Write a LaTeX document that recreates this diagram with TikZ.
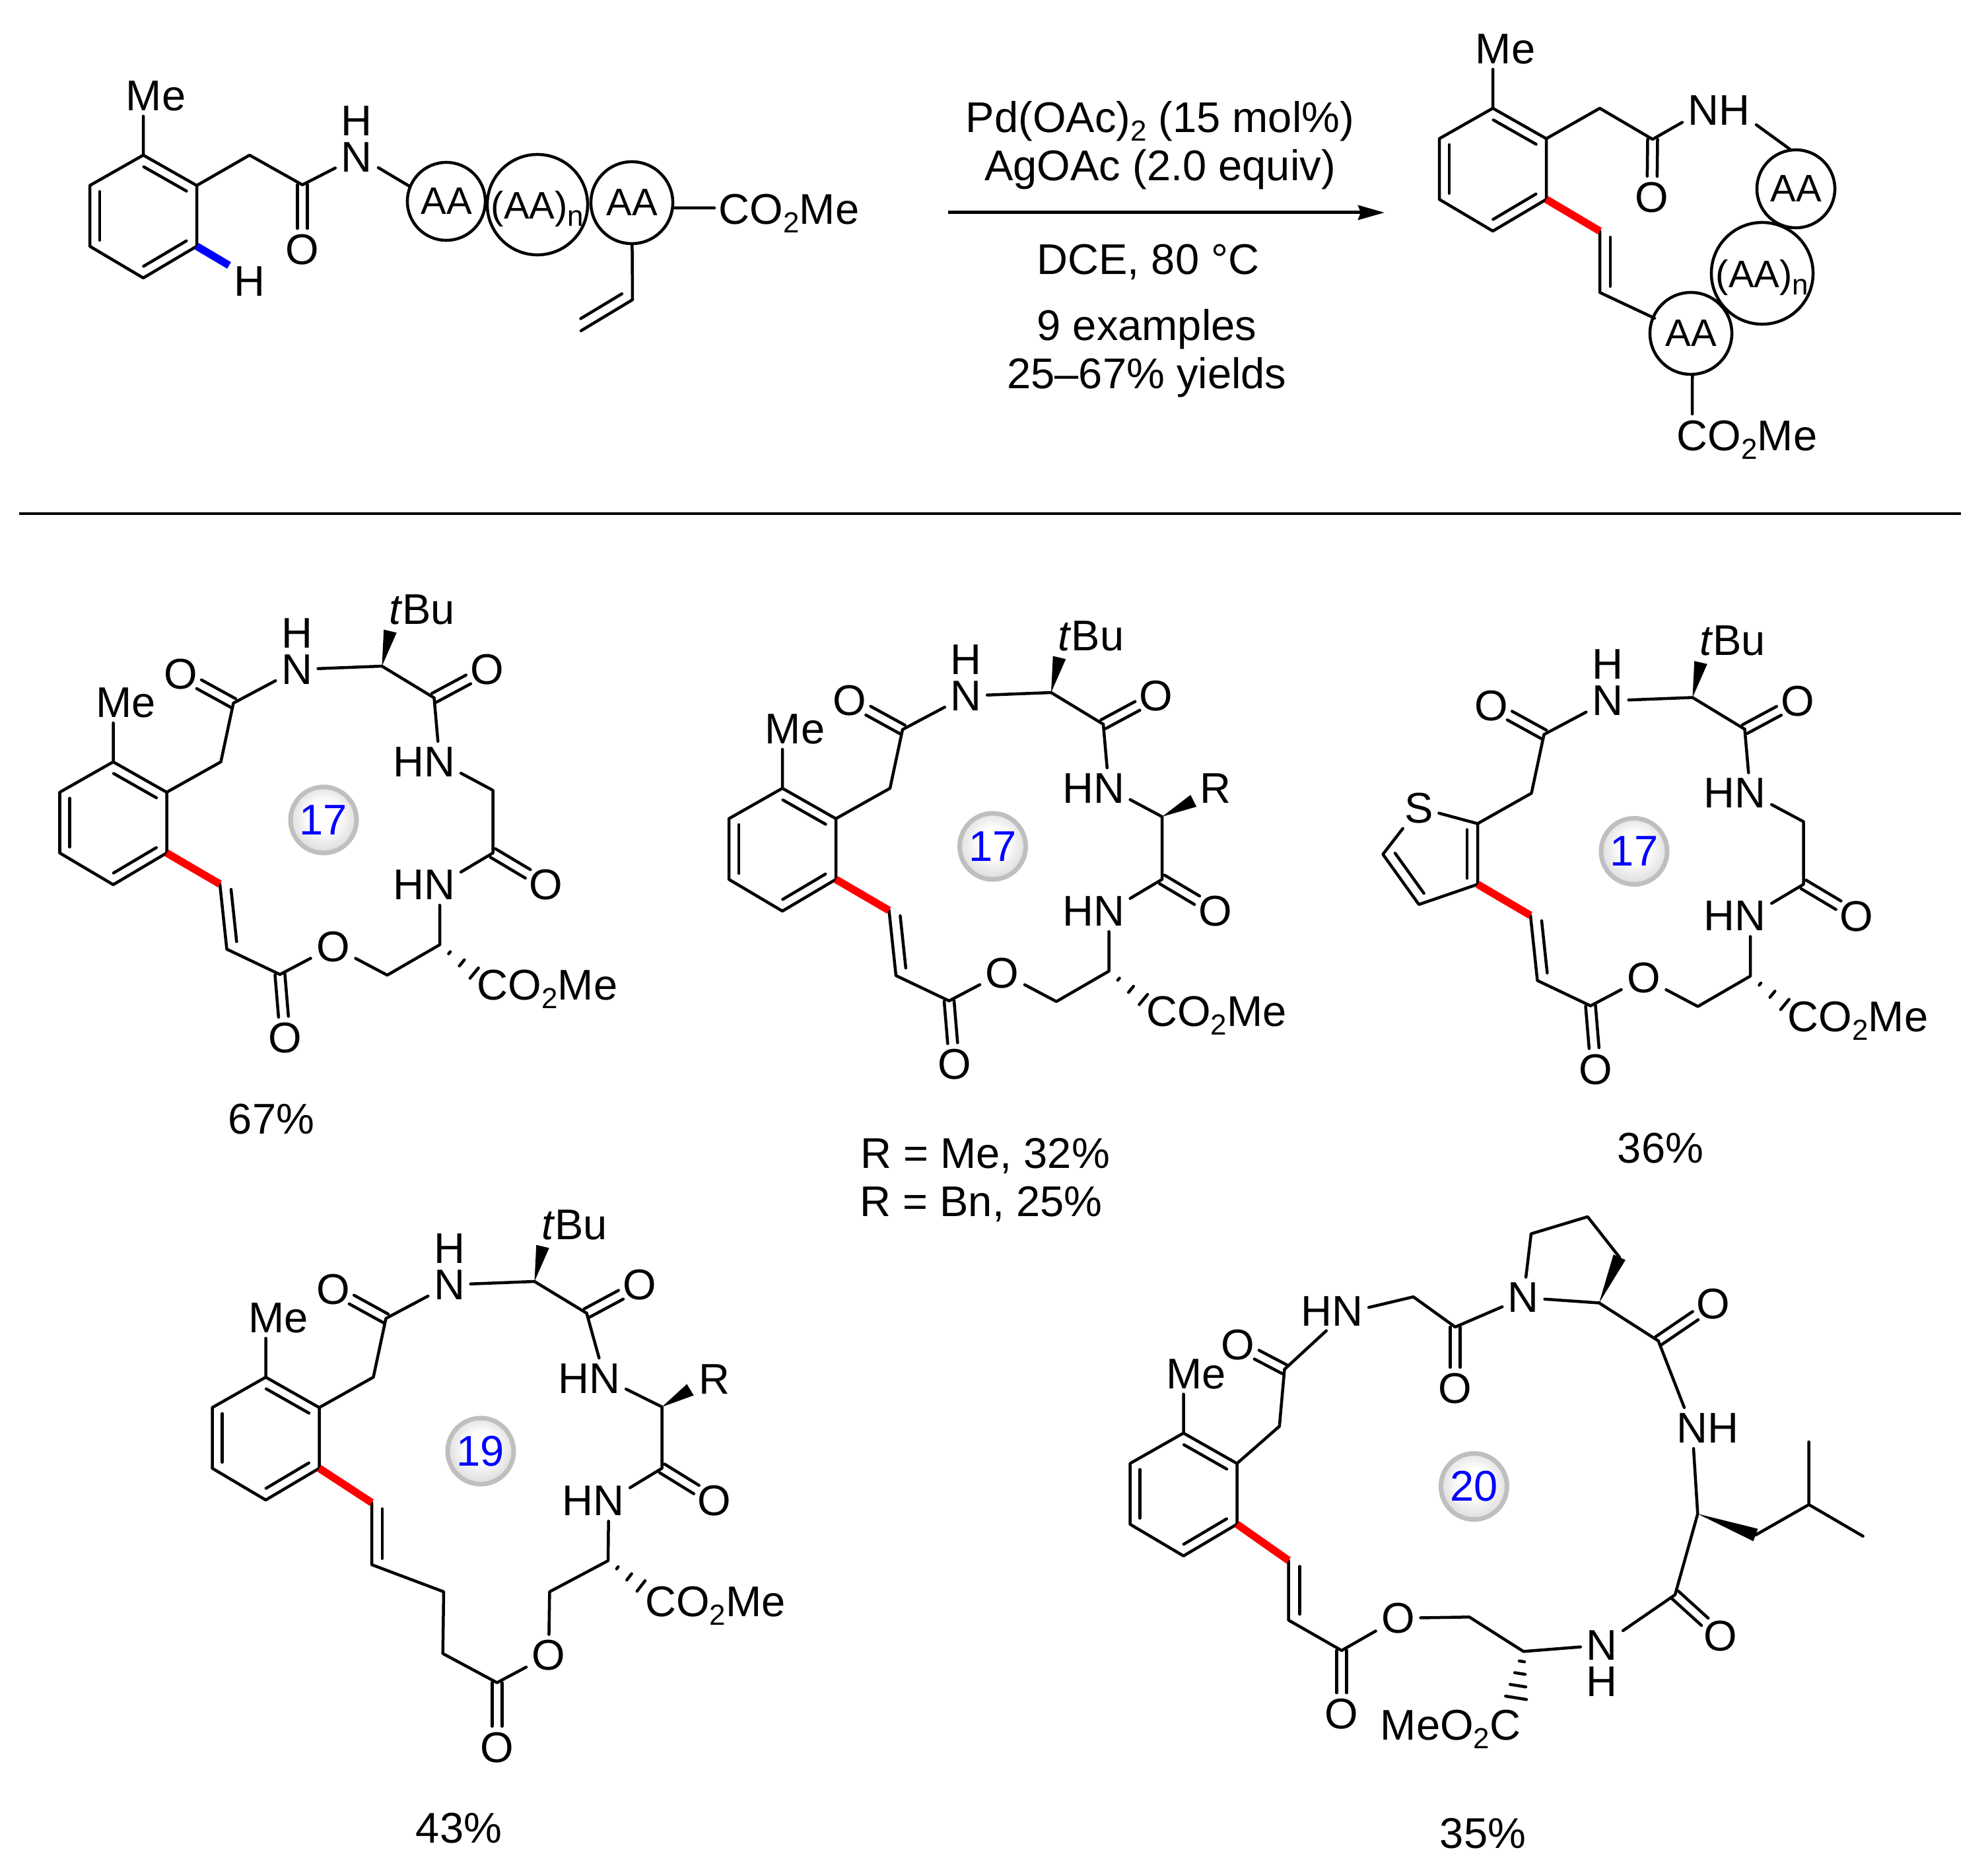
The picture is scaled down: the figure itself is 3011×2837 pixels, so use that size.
\documentclass[tikz,border=0pt]{standalone}
\usepackage{fontspec}
\setmainfont{Liberation Sans}
\usetikzlibrary{calc,arrows.meta}

\pgfdeclareradialshading{badgeball}{\pgfpoint{0bp}{4bp}}{color(0bp)=(white); color(11bp)=(white); color(27bp)=(black!14); color(50bp)=(black!14)}

\tikzset{
  bond/.style={line width=0.045cm, line cap=round, line join=round},
  redbond/.style={line width=0.115cm, red},
  atom/.style={inner sep=0.08cm, text depth=0pt},
  hatom/.style={inner sep=0pt, text depth=0pt},
  plaintext/.style={inner sep=0pt, text depth=0pt},
  aacircle/.style={draw, circle, line width=0.045cm, inner sep=0pt, text depth=0pt, font=\fontsize{16.5}{16.5}\selectfont},
  badge/.style={circle, minimum size=1cm, inner sep=0pt, text=blue, draw=black!25, line width=0.07cm, shade, shading=badgeball},
}

\newcommand{\subn}[1]{\raisebox{-0.2em}{\fontsize{12.5}{12.5}\selectfont #1}}
\newcommand{\innerbond}[3]{\draw[bond] ($(#1)!0.1!(#2)!#3!90:(#2)$) -- ($(#2)!0.1!(#1)!#3!-90:(#1)$);}
\newcommand{\cobond}[2]{
  \draw[bond, shorten >=0.32cm] ($(#1)!0.075cm!90:(#2)$) -- ($(#2)!0.075cm!-90:(#1)$);
  \draw[bond, shorten >=0.32cm] ($(#1)!0.075cm!-90:(#2)$) -- ($(#2)!0.075cm!90:(#1)$);
}
\newcommand{\wedgebond}[2]{\fill ($(#2)!0.1cm!90:(#1)$) -- ($(#2)!0.1cm!-90:(#1)$) -- (#1) -- cycle;}
\newcommand{\hashbond}[3][0.22/0.02cm,0.5/0.06cm,0.78/0.1cm]{
  \foreach \p/\hw in {#1}{
    \draw[bond] ($(#2)!\p!(#3)!\hw!90:(#3)$) -- ($(#2)!\p!(#3)!\hw!-90:(#3)$);
  }
}

% benzene ring with its methyl
\newcommand{\arylring}[2]{
  \begin{scope}[shift={(#2)}, name prefix=#1-]
    \coordinate (r1) at (0,0);
    \coordinate (r2) at (81,46);
    \coordinate (r3) at (81,138);
    \coordinate (r4) at (0,186);
    \coordinate (r5) at (-81,138);
    \coordinate (r6) at (-81,46);
    \coordinate (r0) at (0,-59);
    \node[atom] (me) at (19,-90) {Me};
    \draw[bond] (r1) -- (r2) -- (r3) -- (r4) -- (r5) -- (r6) -- (r1) -- (r0);
    \innerbond{r1}{r2}{-0.15cm}
    \innerbond{r3}{r4}{-0.15cm}
    \innerbond{r5}{r6}{-0.15cm}
  \end{scope}
}

% upper arc: CH2, amide, tBu residue
\newcommand{\macrotop}[2]{
  \begin{scope}[shift={(#2)}, name prefix=#1-]
    \coordinate (ch2) at (163,0);
    \coordinate (c1) at (182,-89);
    \node[atom] (o1) at (102,-133) {O};
    \node[atom] (n1) at (278,-140) {N};
    \node[hatom] (h1) at (278,-195) {H};
    \coordinate (cq) at (407,-145);
    \coordinate (wq) at (419.5,-198);
    \node[atom] (tbu) at (467.5,-231) {\textit{t}Bu};
    \coordinate (c2) at (486,-97);
    \node[atom] (o2) at (566,-140) {O};
    \draw[bond] (r2) -- (ch2) -- (c1) -- (n1) -- (cq) -- (c2);
    \cobond{c1}{o1}
    \cobond{c2}{o2}
    \wedgebond{cq}{wq}
  \end{scope}
}

% lower arc: second residue, serine ester, alkene
\newcommand{\macrolow}[3]{
  \begin{scope}[shift={(#2)}, name prefix=#1-]
    \node[atom] (n2) at (494.5,0) {N};
    \node[hatom] (h2) at (447.5,0) {H};
    \coordinate (x3) at (575,43);
    \coordinate (c4) at (575,138);
    \node[atom] (o3) at (655.5,186) {O};
    \node[atom] (n3) at (494.5,186) {N};
    \node[hatom] (h3) at (447.5,186) {H};
    \coordinate (cs) at (494.5,277);
    \coordinate (hs) at (561.5,332);
    \node[atom] (est) at (657.5,338) {CO\subn{2}Me};
    \coordinate (och2) at (415,323);
    \node[atom] (oe) at (333,279.6) {O};
    \coordinate (ce) at (252.5,322);
    \node[atom] (o4) at (260.5,418) {O};
    \coordinate (al2) at (172,283.7);
    \coordinate (al1) at (161.5,185);
    \node[badge] (num) at (318.5,88) {#3};
    \draw[bond] (c2) -- (n2) -- (x3) -- (c4) -- (n3) -- (cs) -- (och2) -- (oe) -- (ce) -- (al2) -- (al1);
    \cobond{c4}{o3}
    \cobond{ce}{o4}
    \innerbond{al1}{al2}{0.16cm}
    \draw[redbond] (r3) -- (al1);
    \hashbond{cs}{hs}
  \end{scope}
}

\begin{document}
\begin{tikzpicture}[x=0.01cm, y=-0.01cm, font=\fontsize{18.5}{20}\selectfont]
  \useasboundingbox (0,0) rectangle (3011,2837);

  % Starting material
  \arylring{tl}{217,235}
  \coordinate (tl-ch2) at (378,235);
  \coordinate (tl-c1) at (458,280);
  \node[atom] (tl-o1) at (458,378) {O};
  \node[atom] (tl-n1) at (540,238) {N};
  \node[hatom] (tl-h1) at (540,183) {H};
  \node[atom] (tl-h2) at (378,426) {H};
  \coordinate (tl-ch) at (347,402);
  \coordinate (tl-l1) at (573,254);
  \coordinate (tl-l2) at (620,282);
  \node[aacircle, minimum size=1.18cm] (tl-aa1) at (676,305) {AA};
  \node[aacircle, minimum size=1.52cm] (tl-aan) at (814,310) {(AA)\subn{n}};
  \node[aacircle, minimum size=1.24cm] (tl-aa2) at (957,307) {AA};
  \coordinate (tl-b1) at (1082,315);
  \node[atom] (tl-est) at (1195,317) {CO\subn{2}Me};
  \coordinate (tl-v1) at (958,454);
  \coordinate (tl-v2) at (880,501);
  \draw[bond] (tl-r2) -- (tl-ch2) -- (tl-c1) -- (tl-n1);
  \draw[bond] (tl-l1) -- (tl-l2);
  \cobond{tl-c1}{tl-o1}
  \draw[bond] (tl-aa2.-7) -- (tl-b1);
  \draw[bond] (tl-aa2) -- (tl-v1) -- (tl-v2);
  \innerbond{tl-v1}{tl-v2}{-0.16cm}
  \draw[line width=0.115cm, blue] (tl-r3) -- (tl-ch);

  % Reaction arrow and conditions
  \coordinate (arrowstart) at (1436,322);
  \coordinate (arrowend) at (2097,322);
  \draw[line width=0.05cm, -{Stealth[length=0.4cm,width=0.22cm,inset=0.04cm]}] (arrowstart) -- (arrowend);
  \node[plaintext] (cond1) at (1757,177) {Pd(OAc)\subn{2} (15 mol\%)};
  \node[plaintext] (cond2) at (1757,250) {AgOAc (2.0 equiv)};
  \node[plaintext] (cond3) at (1739,393) {DCE, 80 °C};
  \node[plaintext] (cond4) at (1737,492) {9 examples};
  \node[plaintext] (cond5) at (1737,565) {25–67\% yields};

  % Product
  \arylring{tr}{2261,164}
  \coordinate (tr-ch2) at (2423,164);
  \coordinate (tr-c1) at (2503,211);
  \node[atom] (tr-o1) at (2502,299) {O};
  \node[atom] (tr-n1) at (2580,167) {N};
  \node[hatom] (tr-h1) at (2627,167) {H};
  \coordinate (tr-l1) at (2660,189);
  \coordinate (tr-l2) at (2711,226);
  \node[aacircle, minimum size=1.18cm] (tr-aa1) at (2720,286) {AA};
  \node[aacircle, minimum size=1.54cm] (tr-aan) at (2669,414) {(AA)\subn{n}};
  \node[aacircle, minimum size=1.24cm] (tr-aa2) at (2561,505) {AA};
  \coordinate (tr-al1) at (2423,350);
  \coordinate (tr-al2) at (2423,443);
  \coordinate (tr-al3) at (2506,482);
  \coordinate (tr-b1) at (2563,627);
  \node[atom] (tr-est) at (2646,660) {CO\subn{2}Me};
  \draw[bond] (tr-r2) -- (tr-ch2) -- (tr-c1) -- (tr-n1);
  \draw[bond] (tr-l1) -- (tr-l2);
  \cobond{tr-c1}{tr-o1}
  \draw[bond] (tr-al1) -- (tr-al2) -- (tr-al3);
  \innerbond{tr-al1}{tr-al2}{0.16cm}
  \draw[redbond] (tr-r3) -- (tr-al1);
  \draw[bond] (tr-aa2.-88) -- (tr-b1);

  % Divider
  \coordinate (ruleleft) at (29,778);
  \coordinate (ruleright) at (2970,778);
  \draw[line width=0.045cm] (ruleleft) -- (ruleright);

  % 17, glycine
  \arylring{a}{171.5,1154}
  \macrotop{a}{171.5,1154}
  \macrolow{a}{171.5,1154}{17}
  \node[plaintext] (a-yield) at (411,1695) {67\%};

  % 17, R residue
  \arylring{b}{1185,1194}
  \macrotop{b}{1185,1194}
  \macrolow{b}{1185,1194}{17}
  \coordinate (b-wr) at (1807.7,1213);
  \node[atom] (b-r) at (1840.5,1194) {R};
  \wedgebond{b-x3}{b-wr}
  \node[plaintext] (b-yield1) at (1492,1747) {R = Me, 32\%};
  \node[plaintext] (b-yield2) at (1486,1820) {R = Bn, 25\%};

  % 17, thiophene
  \coordinate (d-r2) at (2238,1247.5);
  \coordinate (d-r3) at (2238,1339.5);
  \coordinate (d-t3) at (2149,1370);
  \coordinate (d-t4) at (2094.5,1294);
  \node[atom] (d-s) at (2149,1223.5) {S};
  \draw[bond] (d-s) -- (d-r2) -- (d-r3) -- (d-t3) -- (d-t4) -- (d-s);
  \innerbond{d-r2}{d-r3}{-0.16cm}
  \innerbond{d-t3}{d-t4}{-0.16cm}
  \macrotop{d}{2156.5,1201.5}
  \macrolow{d}{2156.5,1201.5}{17}
  \node[plaintext] (d-yield) at (2515,1739) {36\%};

  % 19
  \arylring{c}{402.5,2086}
  \macrotop{c}{402.5,2086}
  \node[atom] (c-n2) at (916,2088) {N};
  \node[hatom] (c-h2) at (869,2088) {H};
  \coordinate (c-x3) at (1002.6,2131);
  \coordinate (c-wr) at (1045.5,2105);
  \node[atom] (c-r) at (1082,2089) {R};
  \coordinate (c-c4) at (1002.6,2224);
  \node[atom] (c-o3) at (1082,2273) {O};
  \node[atom] (c-n3) at (922,2273) {N};
  \node[hatom] (c-h3) at (875,2273) {H};
  \coordinate (c-cs) at (921,2364);
  \coordinate (c-hs) at (985,2413);
  \node[atom] (c-est) at (1083.5,2426) {CO\subn{2}Me};
  \coordinate (c-och2) at (832.4,2411);
  \node[atom] (c-oe) at (831,2507) {O};
  \coordinate (c-ce) at (752.8,2548.7);
  \node[atom] (c-o4) at (752.8,2646.7) {O};
  \coordinate (c-ch2a) at (670.7,2504.6);
  \coordinate (c-ch2b) at (672,2411);
  \coordinate (c-al2) at (563,2370);
  \coordinate (c-al1) at (563,2276);
  \node[badge] (c-num) at (728,2198) {19};
  \draw[bond] (c-c2) -- (c-n2) -- (c-x3) -- (c-c4) -- (c-n3) -- (c-cs) -- (c-och2) -- (c-oe) -- (c-ce) -- (c-ch2a) -- (c-ch2b) -- (c-al2) -- (c-al1);
  \cobond{c-c4}{c-o3}
  \cobond{c-ce}{c-o4}
  \innerbond{c-al1}{c-al2}{0.16cm}
  \draw[redbond] (c-r3) -- (c-al1);
  \wedgebond{c-x3}{c-wr}
  \hashbond{c-cs}{c-hs}
  \node[plaintext] (c-yield) at (695,2769) {43\%};

  % 20
  \arylring{e}{1792.5,2170.7}
  \coordinate (e-ch2) at (1937.8,2160.3);
  \coordinate (e-c1) at (1945.5,2074);
  \node[atom] (e-o1) at (1875,2037) {O};
  \node[atom] (e-n1) at (2041,1986) {N};
  \node[hatom] (e-h1) at (1994,1986) {H};
  \coordinate (e-gly) at (2140.6,1964.3);
  \coordinate (e-c2) at (2204,2010);
  \node[atom] (e-o2) at (2204,2103) {O};
  \node[atom] (e-n2) at (2307.4,1965.5) {N};
  \coordinate (e-pc) at (2422,1973.5);
  \coordinate (e-pw) at (2452.8,1904.3);
  \coordinate (e-p3) at (2404.6,1843);
  \coordinate (e-p4) at (2319,1868.8);
  \coordinate (e-c3) at (2511.7,2031);
  \node[atom] (e-o3) at (2594.3,1974.7) {O};
  \node[atom] (e-n4) at (2563,2163) {N};
  \node[hatom] (e-h4) at (2610,2163) {H};
  \coordinate (e-cl) at (2571.3,2293);
  \coordinate (e-lw) at (2659,2325);
  \coordinate (e-ib) at (2739.7,2279);
  \coordinate (e-me1) at (2739.7,2184);
  \coordinate (e-me2) at (2821.6,2326.8);
  \coordinate (e-c4) at (2537,2415.6);
  \node[atom] (e-o4) at (2605.8,2478) {O};
  \node[atom] (e-n5) at (2426,2492) {N};
  \node[hatom] (e-h5) at (2426,2547) {H};
  \coordinate (e-cs) at (2307.4,2501.4);
  \coordinate (e-hs) at (2294,2585);
  \node[atom] (e-est) at (2197,2613) {MeO\subn{2}C};
  \coordinate (e-och2) at (2225.5,2449.3);
  \node[atom] (e-oe) at (2117.6,2451) {O};
  \coordinate (e-ce) at (2032,2500);
  \node[atom] (e-o5) at (2032,2596) {O};
  \coordinate (e-al2) at (1951.6,2454);
  \coordinate (e-al1) at (1951.6,2363.6);
  \node[badge] (e-num) at (2232.4,2251.5) {20};
  \draw[bond] (e-r2) -- (e-ch2) -- (e-c1) -- (e-n1);
  \draw[bond] (e-n1.10) -- (e-gly) -- (e-c2) -- (e-n2) -- (e-pc) -- (e-c3) -- (e-n4);
  \draw[bond] (e-n2) -- (e-p4) -- (e-p3) -- (e-pw);
  \draw[bond] (e-n4) -- (e-cl) -- (e-c4) -- (e-n5) -- (e-cs) -- (e-och2) -- (e-oe) -- (e-ce) -- (e-al2) -- (e-al1);
  \draw[bond] (e-lw) -- (e-ib) -- (e-me1);
  \draw[bond] (e-ib) -- (e-me2);
  \cobond{e-c1}{e-o1}
  \cobond{e-c2}{e-o2}
  \cobond{e-c3}{e-o3}
  \cobond{e-c4}{e-o4}
  \cobond{e-ce}{e-o5}
  \innerbond{e-al1}{e-al2}{0.17cm}
  \draw[redbond] (e-r3) -- (e-al1);
  \wedgebond{e-pc}{e-pw}
  \wedgebond{e-cl}{e-lw}
  \hashbond[0.18/0.04cm,0.4/0.08cm,0.62/0.12cm,0.84/0.16cm]{e-cs}{e-hs}
  \node[plaintext] (e-yield) at (2246,2777) {35\%};
\end{tikzpicture}
\end{document}
